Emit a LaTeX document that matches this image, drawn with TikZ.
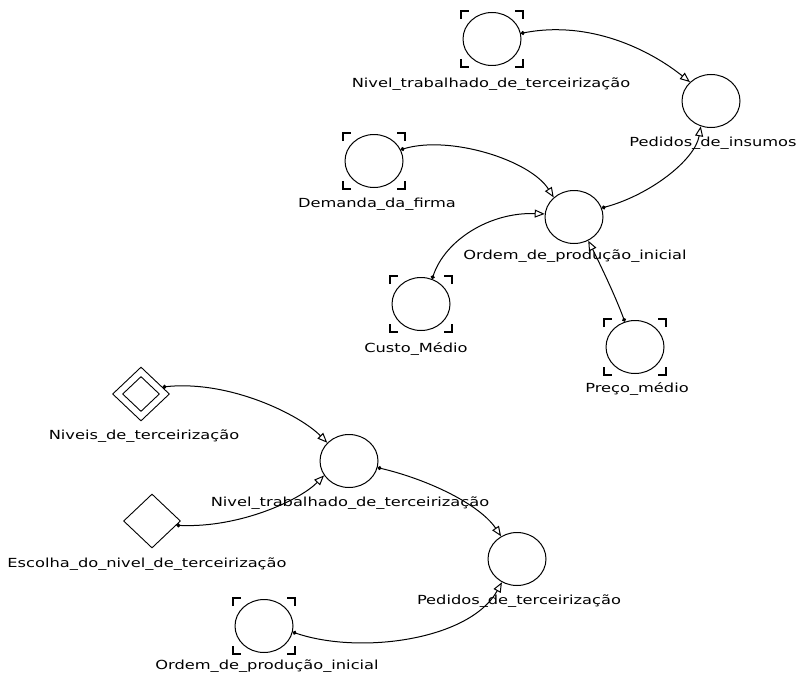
\documentclass[tikz,border=0pt]{standalone}
\usepackage{fontspec}
\setmainfont{DejaVu Sans}
\newfontfamily\labelfont[FakeStretch=1.3]{DejaVu Sans}
\usetikzlibrary{shapes.geometric,arrows.meta}

\tikzset{
  conv/.style={draw, ellipse, minimum width=58pt, minimum height=53pt, inner sep=0pt, line width=1pt},
  choice/.style={draw, diamond, minimum width=57pt, minimum height=54pt, inner sep=0pt, line width=0.9pt},
  innerchoice/.style={draw, diamond, minimum width=37pt, minimum height=35pt, inner sep=0pt, line width=0.9pt},
  namelabel/.style={anchor=base, inner sep=0pt, font=\labelfont\fontsize{12.5}{12.5}\selectfont},
  link/.style={line width=1pt, {Circle[length=4pt]}-{Triangle[open,length=10pt,width=8pt]}},
  cornerline/.style={line width=1.1pt},
}

% corner brackets framing an auxiliary/constant symbol
\newcommand\cornermarks[1]{%
  \foreach \sx/\sy in {1/1,1/-1,-1/1,-1/-1}{%
    \draw[cornerline] ([shift={(\sx*31pt,\sy*20pt)}]#1.center) -- ++(0,\sy*8pt) -- ++(-\sx*8pt,0);
  }}

\begin{document}
\begin{tikzpicture}[x=1pt,y=1pt]
\useasboundingbox (0,0) rectangle (799,-682);

% upper model
\node[conv] (nt1) at (492,-39) {};
\cornermarks{nt1}
\node[namelabel] (nt1l) at (491,-88) {Nivel\_trabalhado\_de\_terceirização};

\node[conv] (pi) at (711,-101) {};
\node[namelabel] (pil) at (713,-146) {Pedidos\_de\_insumos};

\node[conv] (dem) at (374,-161) {};
\cornermarks{dem}
\node[namelabel] (deml) at (377,-207) {Demanda\_da\_firma};

\node[conv] (ord) at (574,-217) {};
\node[namelabel] (ordl) at (575,-259) {Ordem\_de\_produção\_inicial};

\node[conv] (cus) at (421,-304) {};
\cornermarks{cus}
\node[namelabel] (cusl) at (416,-352) {Custo\_Médio};

\node[conv] (pre) at (635,-347) {};
\cornermarks{pre}
\node[namelabel] (prel) at (637,-392) {Preço\_médio};

\draw[link] (nt1.11) .. controls (590,-20) and (650,-50) .. (pi.138);
\draw[link] (dem.23) .. controls (450,-135) and (530,-160) .. (ord.136);
\draw[link] (cus.66) .. controls (445,-240) and (490,-212) .. (ord.174);
\draw[link] (pre.112) .. controls (615,-295) and (598,-260) .. (ord.301);
\draw[link] (ord.18) .. controls (650,-195) and (695,-160) .. (pi.248);

% lower model
\node[choice] (niv) at (141,-394) {};
\node[innerchoice] (nivin) at (141,-394) {};
\node[namelabel] (nivl) at (144,-439) {Niveis\_de\_terceirização};

\node[choice] (esc) at (152,-521) {};
\node[namelabel] (escl) at (147,-567) {Escolha\_do\_nivel\_de\_terceirização};

\node[conv] (nt2) at (349,-461) {};
\node[namelabel] (nt2l) at (350,-506) {Nivel\_trabalhado\_de\_terceirização};

\node[conv] (pt) at (517,-559) {};
\node[namelabel] (ptl) at (519,-604) {Pedidos\_de\_terceirização};

\node[conv] (ord2) at (264,-626) {};
\cornermarks{ord2}
\node[namelabel] (ord2l) at (267,-669) {Ordem\_de\_produção\_inicial};

\draw[link] (niv.18) .. controls (230,-380) and (300,-415) .. (nt2.140);
\draw[link] (esc.-10) .. controls (240,-528) and (300,-500) .. (nt2.210);
\draw[link] (nt2.-13) .. controls (430,-480) and (480,-505) .. (pt.125);
\draw[link] (ord2.-12) .. controls (360,-655) and (470,-640) .. (pt.237);
\end{tikzpicture}
\end{document}
